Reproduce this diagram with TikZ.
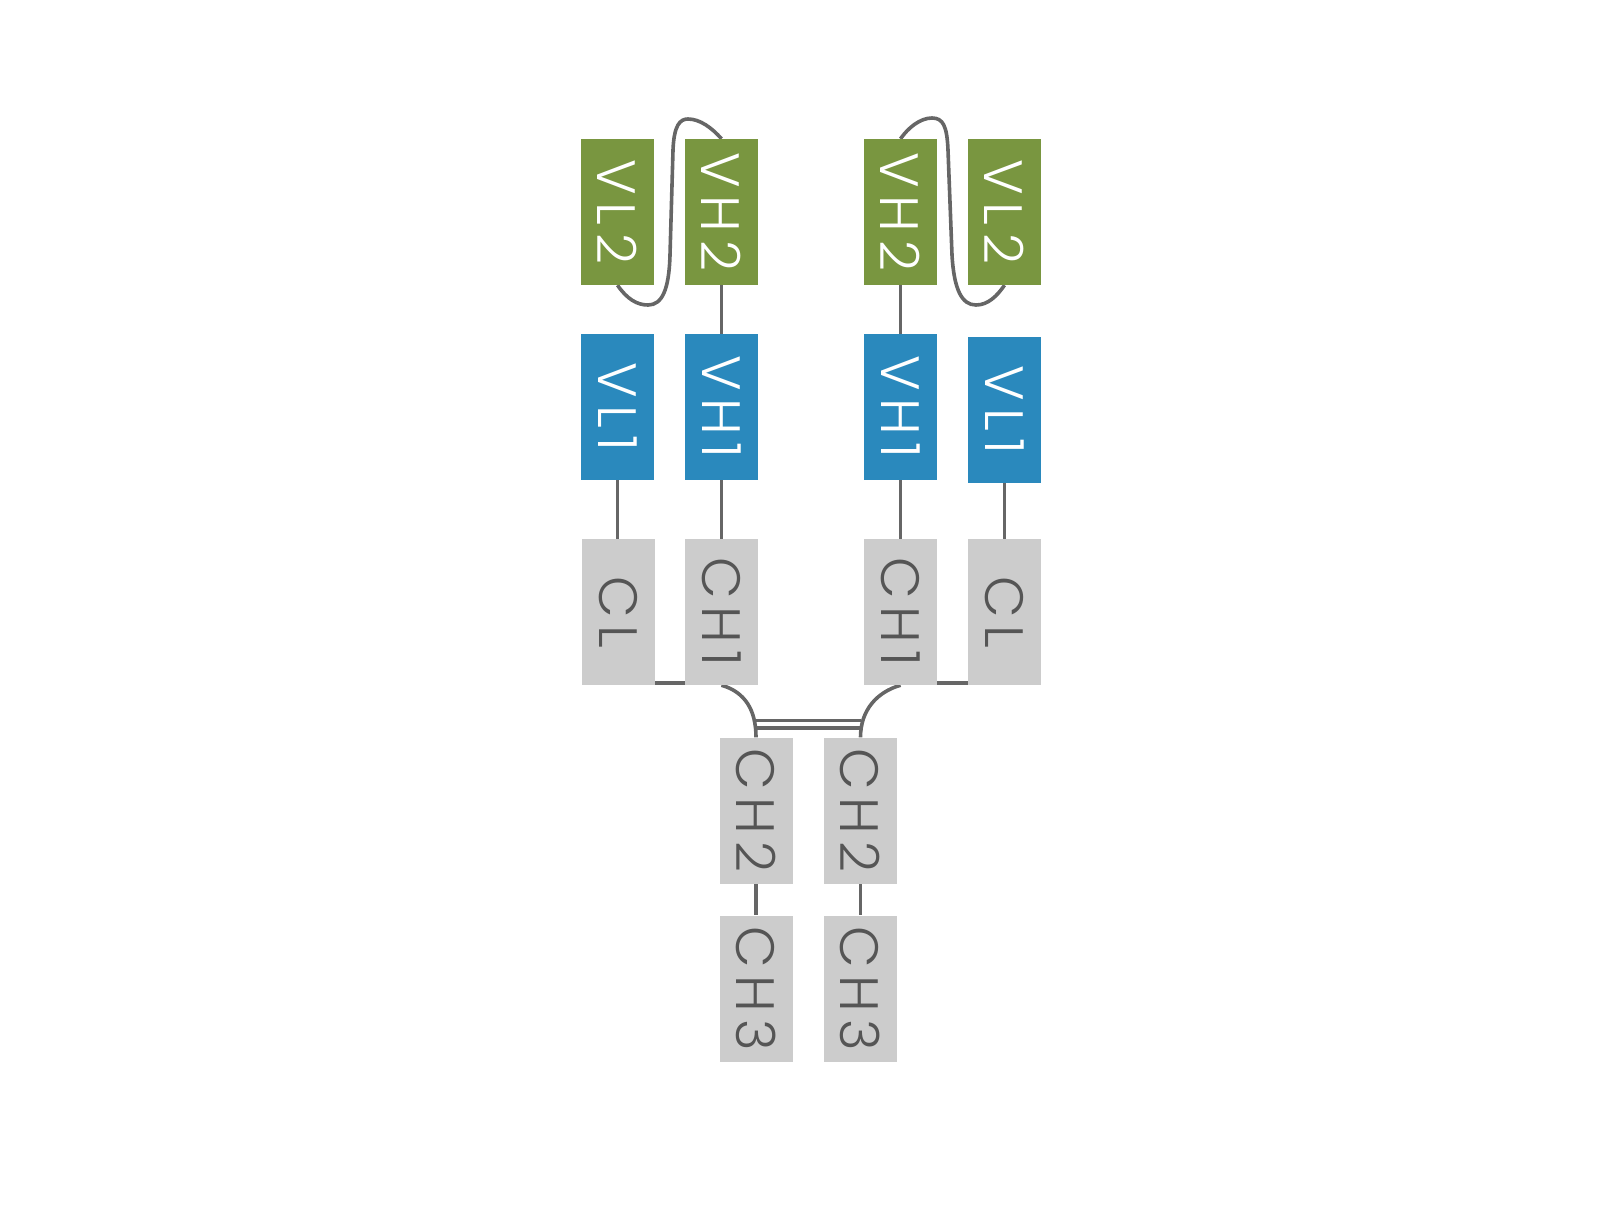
\documentclass[tikz,border=0pt]{standalone}
\usepackage{fontspec}
\setmainfont{Poppins}[UprightFont={* Light}]
\newfontfamily\domfont{Poppins}[UprightFont={* Light}, LetterSpace=14]
\usetikzlibrary{backgrounds,calc}
\definecolor{vgreen}{RGB}{121,150,64}
\definecolor{vblue}{RGB}{42,137,189}
\definecolor{cgray}{RGB}{204,204,204}
\definecolor{lgray}{RGB}{102,102,102}
\definecolor{tgray}{RGB}{85,85,85}
\tikzset{
  dombox/.style={rectangle, inner sep=0pt, minimum width=73pt, minimum height=146pt,
    font=\domfont\fontsize{54}{54}\selectfont},
  vtwo/.style={dombox, fill=vgreen, text=white},
  vone/.style={dombox, fill=vblue, text=white},
  cdom/.style={dombox, fill=cgray, text=tgray},
  link/.style={draw=lgray, line width=3.6pt},
}
\newcommand{\rtxt}[1]{\rotatebox[origin=c]{-90}{#1}}
\begin{document}
\begin{tikzpicture}[x=1pt,y=-1pt]
\useasboundingbox (0,0) rectangle (1622,1205);
% row 1
\node[vtwo] (VL2a) at (617.5,212) {\rtxt{VL2}};
\node[vtwo] (VH2a) at (721.5,212) {\rtxt{VH2}};
\node[vtwo] (VH2b) at (900.5,212) {\rtxt{VH2}};
\node[vtwo] (VL2b) at (1004.5,212) {\rtxt{VL2}};
% row 2
\node[vone] (VL1a) at (617.5,407) {\rtxt{VL1}};
\node[vone] (VH1a) at (721.5,407) {\rtxt{VH1}};
\node[vone] (VH1b) at (900.5,407) {\rtxt{VH1}};
\node[vone] (VL1b) at (1004.5,410) {\rtxt{VL1}};
% row 3
\node[cdom] (CLa) at (618.5,612) {\rtxt{CL}};
\node[cdom] (CH1a) at (721.5,612) {\rtxt{CH1}};
\node[cdom] (CH1b) at (900.5,612) {\rtxt{CH1}};
\node[cdom] (CLb) at (1004.5,612) {\rtxt{CL}};
% rows 4-5
\node[cdom] (CH2a) at (756,810.5) {\rtxt{CH2}};
\node[cdom] (CH2b) at (860.5,810.5) {\rtxt{CH2}};
\node[cdom] (CH3a) at (756,988.5) {\rtxt{CH3}};
\node[cdom] (CH3b) at (860.5,988.5) {\rtxt{CH3}};
\begin{scope}[on background layer]
  % straight connectors
  \draw[link] (VH2a.south) -- (VH1a.north);
  \draw[link] (VH1a.south) -- (CH1a.north);
  \draw[link] (VL1a.south) -- (VL1a.south |- CLa.north);
  \draw[link] (VH2b.south) -- (VH1b.north);
  \draw[link] (VH1b.south) -- (CH1b.north);
  \draw[link] (VL1b.south) -- (CLb.north);
  \draw[link] (CH2a.south) -- (CH3a.north);
  \draw[link] (CH2b.south) -- (CH3b.north);
  % hinge-side links CL--CH1
  \draw[link] ($(CLa.south)+(0,-2)$) -- ($(CH1a.south)+(0,-2)$);
  \draw[link] ($(CH1b.south)+(0,-2)$) -- ($(CLb.south)+(0,-2)$);
  % linker loops
  \draw[link] (VL2a.south) .. controls (627,299) and (637,305) .. (648,305)
     .. controls (662,305) and (669,290) .. (670,255) -- (673,150)
     .. controls (674,125) and (680,119) .. (688,119)
     .. controls (700,119) and (712,128) .. (VH2a.north);
  \draw[link] (VH2b.north) .. controls (908,128) and (920,118) .. (932,118)
     .. controls (943,118) and (947,126) .. (948,150) -- (952,255)
     .. controls (954,290) and (962,305) .. (976,305)
     .. controls (988,305) and (997,296) .. (VL2b.south);
  % hinge curves
  \draw[link] (CH1a.south) .. controls (745,692) and (756,710) .. (CH2a.north);
  \draw[link] (CH1b.south) .. controls (877,692) and (860.5,710) .. (CH2b.north);
  % disulfide bonds
  \coordinate (s1l) at ($(CH2a.north)+(0,-17)$);
  \coordinate (s1r) at ($(CH2b.north)+(0,-17)$);
  \coordinate (s2l) at ($(CH2a.north)+(0,-9.5)$);
  \coordinate (s2r) at ($(CH2b.north)+(0,-9.5)$);
  \draw[link] (s1l) -- (s1r);
  \draw[link] (s2l) -- (s2r);
\end{scope}
\end{tikzpicture}
\end{document}
